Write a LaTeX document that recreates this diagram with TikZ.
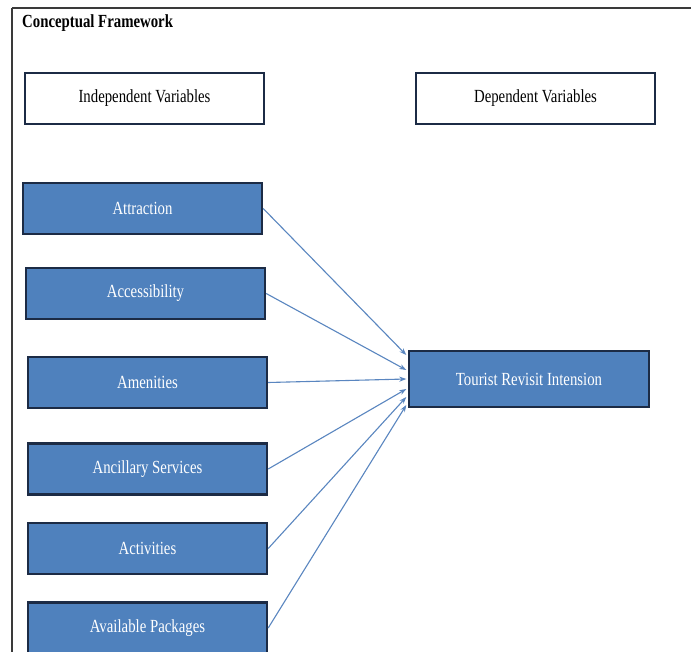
\documentclass[tikz,border=0pt]{standalone}
\usepackage{fontspec}
\setmainfont[FakeStretch=0.8]{Liberation Serif}
\usetikzlibrary{arrows.meta}
\definecolor{boxblue}{HTML}{4F81BD}
\definecolor{navy}{HTML}{1C2B45}
\definecolor{arrowblue}{HTML}{5A86C0}
\definecolor{framegray}{HTML}{3A3A3A}
\tikzset{
  varbox/.style={draw=navy, line width=2.4pt, fill=boxblue, text=white, minimum width=239pt, minimum height=51pt, inner sep=0pt, font=\fontsize{18.5}{20}\selectfont},
  headbox/.style={varbox, fill=white, text=black},
  link/.style={draw=arrowblue, line width=1.1pt, -{Stealth[length=7pt,width=5pt]}}
}
\begin{document}
\begin{tikzpicture}[x=1pt,y=-1pt]
\useasboundingbox (0,0) rectangle (691,651);
\fill[white] (-3,-3) rectangle (696,656);
\draw[framegray, line width=1.3pt] (12,8) -- (696,8);
\draw[framegray, line width=1.3pt] (12,8) -- (12,656);
\node[anchor=north west, inner sep=0pt, font=\fontsize{18.5}{20}\selectfont\bfseries] (title) at (22,14) {Conceptual Framework};
\node[headbox] (ind) at (144.5,98.5) {Independent Variables};
\node[headbox] (dep) at (535.5,98.5) {Dependent Variables};
\node[varbox] (a1) at (142.5,208.5) {Attraction};
\node[varbox] (a2) at (145.5,293.5) {Accessibility};
\node[varbox] (a3) at (147.5,382.5) {Amenities};
\node[varbox] (a4) at (147.5,469) {Ancillary Services};
\node[varbox] (a5) at (147.5,548.5) {Activities};
\node[varbox] (a6) at (147.5,628) {Available Packages};
\node[varbox, minimum width=240pt, minimum height=56pt] (tri) at (529,379) {Tourist Revisit Intension};
\coordinate (e1) at ([yshift=24pt]tri.west);
\coordinate (e2) at ([yshift=9pt]tri.west);
\coordinate (e3) at ([yshift=0pt]tri.west);
\coordinate (e4) at ([yshift=-10pt]tri.west);
\coordinate (e5) at ([yshift=-18pt]tri.west);
\coordinate (e6) at ([yshift=-26pt]tri.west);
\draw[link] (a1.east) -- ([xshift=-1.5pt]e1);
\draw[link] (a2.east) -- ([xshift=-1.5pt]e2);
\draw[link] (a3.east) -- ([xshift=-1.5pt]e3);
\draw[link] (a4.east) -- ([xshift=-1.5pt]e4);
\draw[link] (a5.east) -- ([xshift=-1.5pt]e5);
\draw[link] (a6.east) -- ([xshift=-1.5pt]e6);
\end{tikzpicture}
\end{document}
